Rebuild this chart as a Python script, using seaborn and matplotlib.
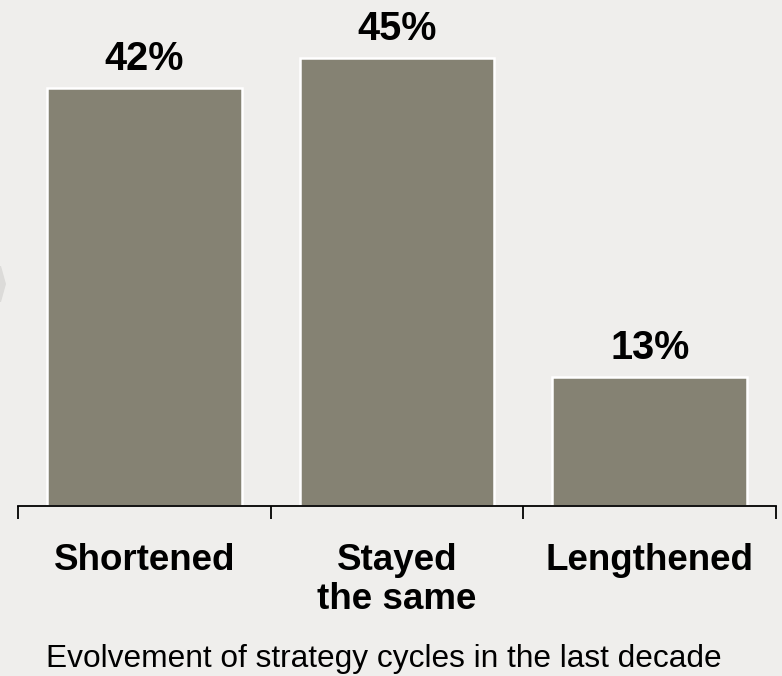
import matplotlib
matplotlib.use("Agg")
import matplotlib.pyplot as plt
import seaborn as sns
import pandas as pd
from matplotlib.patches import Polygon

categories = ["Shortened", "Stayed\nthe same", "Lengthened"]
values = [42, 45, 13]
value_labels = ["42%", "45%", "13%"]
title_text = "Evolvement of strategy cycles in the last decade"

BG = "#efeeec"
BAR = "#858273"

sns.set_theme(style="white")
plt.rcParams["font.family"] = ["Liberation Sans", "DejaVu Sans"]

df = pd.DataFrame({"cat": categories, "val": values})

fig = plt.figure(figsize=(7.82, 6.76), dpi=100, facecolor=BG)
ax = fig.add_axes([18/782, 170/676, (776-18)/782, 506/676])
ax.set_facecolor(BG)

sns.barplot(data=df, x="cat", y="val", color=BAR, saturation=1, width=0.77,
            edgecolor="white", linewidth=1.8, ax=ax)

ax.set_xlim(-0.5, 2.5)
ax.set_ylim(0, 50.8)
ax.set_xlabel("")
ax.set_ylabel("")
ax.set_yticks([])

for s in ["top", "right", "left"]:
    ax.spines[s].set_visible(False)
ax.spines["bottom"].set_color("black")
ax.spines["bottom"].set_linewidth(1.3)

# boundary ticks
ax.set_xticks([-0.5, 0.5, 1.5, 2.5])
ax.set_xticklabels([])
ax.tick_params(axis="x", which="major", direction="out", length=9, width=1.3,
               color="black", bottom=True)
ax.set_xticks([0, 1, 2], minor=True)
ax.set_xticklabels(categories, minor=True, fontsize=26.5, fontweight="bold",
                   color="black")
ax.tick_params(axis="x", which="minor", length=0, pad=26.5)
for lab in ax.get_xticklabels(minor=True):
    lab.set_linespacing(1.15)

for i, (v, t) in enumerate(zip(values, value_labels)):
    ax.text(i, v + 1.8, t, ha="center", va="baseline", fontsize=28.5,
            fontweight="bold", color="black")

fig.text(384/782, 1 - 667/676, title_text, ha="center", va="baseline",
         fontsize=22.8, color="black")

# faint chevron at left edge
chev = Polygon([[0, 1 - 266/676], [1/782, 1 - 266/676], [6/782, 1 - 284/676],
                [1/782, 1 - 302/676], [0, 1 - 302/676]], closed=True,
               transform=fig.transFigure, facecolor="#dcdbd9", edgecolor="none")
fig.patches.append(chev)

fig.savefig("out.png", dpi=100, facecolor=BG)
